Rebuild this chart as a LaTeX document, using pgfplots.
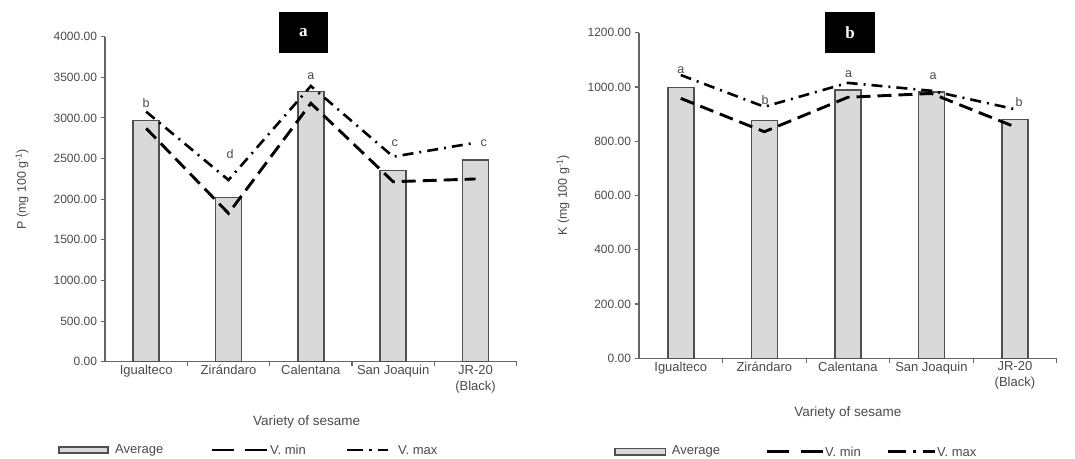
\documentclass[border=0pt]{standalone}
\usepackage{pgfplots}
\pgfplotsset{compat=1.18}
\usepackage{fontspec}
\setmainfont{Liberation Sans}
\newfontfamily\serifbold{Liberation Serif}
\definecolor{txt}{HTML}{4A4A4A}
\definecolor{axisc}{HTML}{666666}
\definecolor{barfill}{HTML}{D9D9D9}
\definecolor{baredge}{HTML}{505050}
\tikzset{lett/.style={font=\fontsize{12.5}{12.5}\selectfont, text=txt}}
\pgfplotsset{
  panel/.style={
    scale only axis, clip=false,
    xmin=-0.5, xmax=4.5, ymin=0,
    axis lines*=left,
    axis line style={draw=axisc, line width=1.2pt},
    xtick={0.5,1.5,2.5,3.5,4.5}, xticklabels={},
    extra x ticks={0,1,2,3,4},
    extra x tick labels={Igualteco,Zirándaro,Calentana,San Joaquin,{JR-20\\(Black)}},
    extra x tick style={major tick length=0pt},
    tick align=outside, major tick length=4.5pt,
    tick style={draw=axisc, line width=1.1pt},
    xticklabel style={font=\fontsize{13}{16}\selectfont, text=txt, align=center},
    yticklabel style={font=\fontsize{12}{14}\selectfont, text=txt},
    yticklabel style={/pgf/number format/.cd, fixed, fixed zerofill, precision=2, 1000 sep={}, assume math mode=true},
    xlabel={Variety of sesame},
  },
  avg/.style={ybar, bar width=26pt, fill=barfill, draw=baredge, line width=1.5pt},
  vmin/.style={black, line width=2.9pt, dash pattern=on 14pt off 7pt},
  vmax/.style={black, line width=2.6pt, dash pattern=on 11pt off 6pt on 2pt off 6pt},
}
\begin{document}
\begin{tikzpicture}
\path[use as bounding box] (0pt,0pt) rectangle (1075pt,458pt);

% Panel a
\begin{axis}[panel, at={(105pt,96.3pt)}, anchor=south west,
  width=411.7pt, height=325pt, ymax=4000, ytick={0,500,...,4000},
  ylabel={P (mg 100 g\textsuperscript{-1})},
  every axis y label/.style={at={(axis description cs:-0.2016,0.531)}, rotate=90, anchor=center, font=\fontsize{12.5}{15}\selectfont, text=txt},
  every axis x label/.style={at={(axis description cs:0.49,-0.185)}, anchor=center, font=\fontsize{13.5}{15}\selectfont, text=txt}]
\addplot[avg] coordinates {(0,2966) (1,2023) (2,3323) (3,2356) (4,2483)};
\addplot[vmin] coordinates {(0,2872) (1,1826) (2,3180) (3,2215) (4,2249)};
\addplot[vmax] coordinates {(0,3077) (1,2236) (2,3393) (3,2523) (4,2695)};
\node[lett] at (axis cs:0,3184) {b};
\node[lett] at (axis cs:1.02,2556) {d};
\node[lett] at (axis cs:2,3516) {a};
\node[lett] at (axis cs:3.02,2695) {c};
\node[lett] at (axis cs:4.1,2695) {c};
\end{axis}

% Panel b
\begin{axis}[panel, at={(639pt,99.7pt)}, anchor=south west,
  width=417.7pt, height=325.6pt, ymax=1200, ytick={0,200,...,1200},
  ylabel={K (mg 100 g\textsuperscript{-1})},
  every axis y label/.style={at={(axis description cs:-0.182,0.50)}, rotate=90, anchor=center, font=\fontsize{12.5}{15}\selectfont, text=txt},
  every axis x label/.style={at={(axis description cs:0.50,-0.168)}, anchor=center, font=\fontsize{13.5}{15}\selectfont, text=txt}]
\addplot[avg] coordinates {(0,998) (1,876) (2,988) (3,981) (4,880)};
\addplot[vmin] coordinates {(0,958) (1,835) (2,962) (3,976) (4,853)};
\addplot[vmax] coordinates {(0,1044) (1,927) (2,1015) (3,986) (4,918)};
\node[lett] at (axis cs:0,1060) {a};
\node[lett] at (axis cs:1.01,952) {b};
\node[lett] at (axis cs:2.01,1048) {a};
\node[lett] at (axis cs:3.02,1040) {a};
\node[lett] at (axis cs:4.05,945) {b};
\end{axis}

% panel letters
\node[fill=black, minimum width=49pt, minimum height=41pt, inner sep=0pt, text=white, font=\serifbold\bfseries\fontsize{17}{17}\selectfont] at (303.3pt,425.7pt) {a};
\node[fill=black, minimum width=50pt, minimum height=41pt, inner sep=0pt, text=white, font=\serifbold\bfseries\fontsize{17}{17}\selectfont] at (850pt,425.7pt) {b};

% legends
\begin{scope}[font=\fontsize{13}{15}\selectfont, text=txt, x=1pt, y=1pt]
\draw[fill=barfill, draw=baredge, line width=1.2pt] (59,5) rectangle (108,11);
\node[anchor=west, inner sep=0pt] at (115,8) {Average};
\draw[black, line width=2.8pt, dash pattern=on 22pt off 11pt] (212,8) -- (267,8);
\node[anchor=west, inner sep=0pt] at (270,8) {V. min};
\draw[black, line width=2.6pt, dash pattern=on 16pt off 6pt on 2.5pt off 6pt on 20pt off 4pt] (347,8) -- (388,8);
\node[anchor=west, inner sep=0pt] at (398,8) {V. max};

\draw[fill=barfill, draw=baredge, line width=1.2pt] (615,3) rectangle (665.7,9.5);
\node[anchor=west, inner sep=0pt] at (671.7,6.3) {Average};
\draw[black, line width=2.8pt, dash pattern=on 22pt off 12pt] (766.7,6.3) -- (822.7,6.3);
\node[anchor=west, inner sep=0pt] at (825,6.3) {V. min};
\draw[black, line width=2.6pt, dash pattern=on 18pt off 7pt on 2.5pt off 7pt on 20pt off 4pt] (888,6.3) -- (935,6.3);
\node[anchor=west, inner sep=0pt] at (937,6.3) {V. max};
\end{scope}
\end{tikzpicture}
\end{document}
